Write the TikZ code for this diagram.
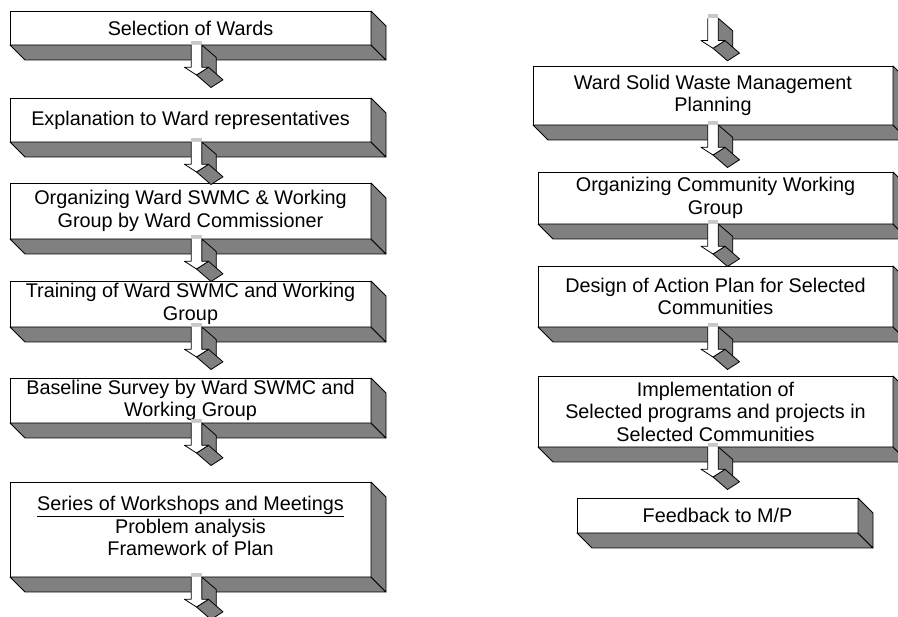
\documentclass[tikz,border=0pt]{standalone}
\usepackage{fontspec}
\setmainfont{Liberation Sans}
\usetikzlibrary{calc}

\definecolor{facegray}{RGB}{128,128,128}
\definecolor{capgray}{RGB}{200,200,200}

\tikzset{
  panel/.style={draw=black, fill=white, line width=0.8pt, inner sep=0pt,
    outer sep=0pt, align=center, font=\fontsize{19.8}{22.5}\selectfont},
  caption/.style={inner sep=0pt, align=center, font=\fontsize{19.8}{22.5}\selectfont},
  face/.style={draw=black, fill=facegray, line width=0.8pt, line join=round},
  edge/.style={draw=black, line width=0.8pt, line join=round},
}

% grey depth faces (bottom and right) of a raised panel
\newcommand{\extrude}[1]{%
  \filldraw[face] (#1.south west) -- (#1.south east)
    -- ($(#1.south east)+(15,-15)$) -- ($(#1.south west)+(15,-15)$) -- cycle;
  \filldraw[face] (#1.north east) -- ($(#1.north east)+(15,-15)$)
    -- ($(#1.south east)+(15,-15)$) -- (#1.south east) -- cycle;
}

% solid downward block arrow whose shaft starts at the given point
\newcommand{\blockarrow}[1]{%
  \begin{scope}[shift={#1}]
    \fill[capgray] (-5.3,0) rectangle (5.3,4);
    \filldraw[face] (5.3,0) -- (19.8,-12.5) -- (19.8,-36) -- (5.3,-22.3) -- cycle;
    \filldraw[face] (0,-30) -- (12,-22.3) -- (26.5,-34.8) -- (14.5,-42.5) -- cycle;
    \fill[white] (-5.3,0) -- (-5.3,-22.3) -- (-12,-22.3) -- (0,-30)
      -- (12,-22.3) -- (5.3,-22.3) -- (5.3,0) -- cycle;
    \draw[edge] (-5.3,0) -- (-5.3,-22.3) -- (-12,-22.3) -- (0,-30)
      -- (12,-22.3) -- (5.3,-22.3) -- (5.3,0);
  \end{scope}}

\begin{document}
\begin{tikzpicture}[x=1pt, y=1pt]
  \useasboundingbox (0,0) rectangle (898,-617);
  \clip (0,0) rectangle (898,-617);

  % column guides for the arrows
  \coordinate (colL) at (196.5,0);
  \coordinate (colR) at (713,0);

  % left column
  \node[panel, minimum width=361, minimum height=34] (b1) at (190.5,-28)
    {Selection of Wards};
  \node[panel, minimum width=361, minimum height=44] (b2) at (190.5,-120)
    {Explanation to Ward representatives};
  \node[panel, minimum width=361, minimum height=56] (b3) at (190.5,-211)
    {Organizing Ward SWMC \& Working\\Group by Ward Commissioner};
  \node[panel, minimum width=361, minimum height=46] (b4) at (190.5,-304)
    {Training of Ward SWMC and Working\\Group};
  \node[panel, minimum width=361, minimum height=45] (b5) at (190.5,-400.5)
    {Baseline Survey by Ward SWMC and\\Working Group};
  \node[panel, minimum width=361, minimum height=95] (b6) at (190.5,-529.5) {};

  % right column
  \coordinate (rstart) at (713,-18.3);
  \node[panel, minimum width=360, minimum height=59] (r1) at (713,-95.5)
    {Ward Solid Waste Management\\Planning};
  \node[panel, minimum width=355, minimum height=52] (r2) at (715.5,-198)
    {Organizing Community Working\\Group};
  \node[panel, minimum width=355, minimum height=61] (r3) at (715.5,-296.5)
    {Design of Action Plan for Selected\\Communities};
  \node[panel, minimum width=355, minimum height=71] (r4) at (715.5,-411.5)
    {Implementation of\\Selected programs and projects in\\Selected Communities};
  \node[panel, minimum width=281, minimum height=35] (r5) at (717.5,-515.5)
    {Feedback to M/P};

  \foreach \n in {b1,b2,b3,b4,b5,b6,r1,r2,r3,r4,r5} {\extrude{\n}}

  \node[caption] (b6text) at (190.5,-526)
    {\underline{Series of Workshops and Meetings}\\Problem analysis\\Framework of Plan};

  % arrows between the steps
  \foreach \n in {b1,b2,b3,b4,b5,b6} {\blockarrow{(colL |- \n.south)}}
  \blockarrow{(rstart)}
  \foreach \n in {r1,r2,r3,r4} {\blockarrow{(colR |- \n.south)}}
\end{tikzpicture}
\end{document}
